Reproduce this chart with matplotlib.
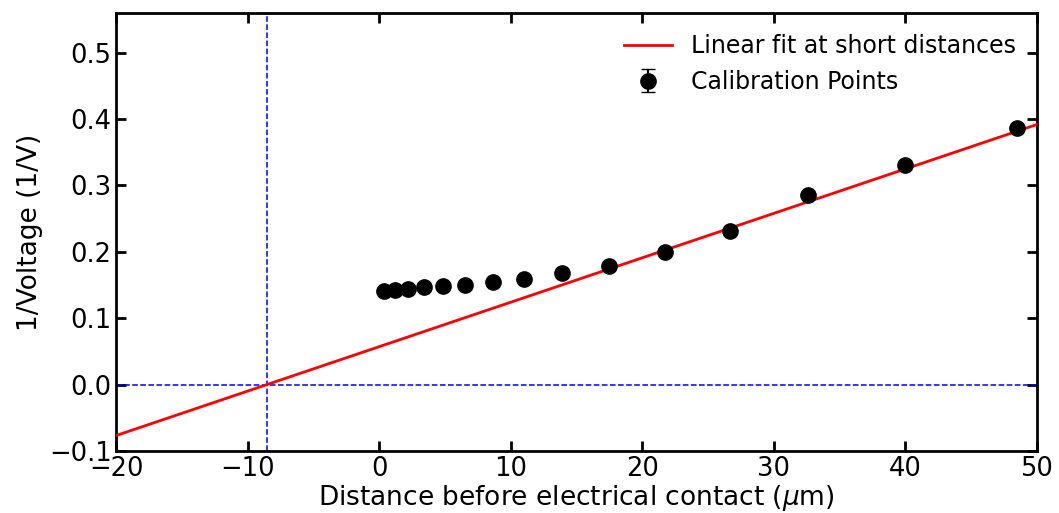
import numpy as np
import matplotlib
matplotlib.use("Agg")
import matplotlib.pyplot as plt

# calibration data
distance = [0.37, 1.2, 2.2, 3.4, 4.85, 6.5, 8.65, 11.0, 13.9, 17.5, 21.7, 26.7, 32.6, 40.0, 48.5]
inv_voltage = [0.141, 0.142, 0.144, 0.147, 0.148, 0.150, 0.155, 0.159, 0.168, 0.179,
               0.200, 0.232, 0.286, 0.330, 0.386]
inv_voltage_err = [0.002] * len(distance)

fit_slope = 0.00669
fit_intercept = 0.0572
contact_offset = -8.55

fig, ax = plt.subplots(figsize=(10.59, 5.13), dpi=100)

x_fit = np.array([-20, 50])
ax.plot(x_fit, fit_slope * x_fit + fit_intercept, color="red", lw=2,
        label="Linear fit at short distances", zorder=3)
ax.errorbar(distance, inv_voltage, yerr=inv_voltage_err, fmt="o", color="black",
            markersize=11, capsize=5, elinewidth=1.5, label="Calibration Points", zorder=4)
ax.axhline(0, color="blue", ls="--", lw=1.1)
ax.axvline(contact_offset, color="blue", ls="--", lw=1.1)

ax.set_xlim(-20, 50)
ax.set_ylim(-0.1, 0.56)
ax.set_yticks([-0.1, 0.0, 0.1, 0.2, 0.3, 0.4, 0.5])
ax.set_xlabel(r"Distance before electrical contact ($\mu$m)", fontsize=19, labelpad=1)
ax.set_ylabel("1/Voltage (1/V)", fontsize=19)
ax.tick_params(direction="in", length=7, width=2, labelsize=18.5, top=True, right=True)
for s in ax.spines.values():
    s.set_linewidth(2)
ax.legend(loc="upper right", fontsize=17, frameon=False)

fig.subplots_adjust(left=0.11, right=0.979, top=0.975, bottom=0.121)
fig.savefig("out.png")
